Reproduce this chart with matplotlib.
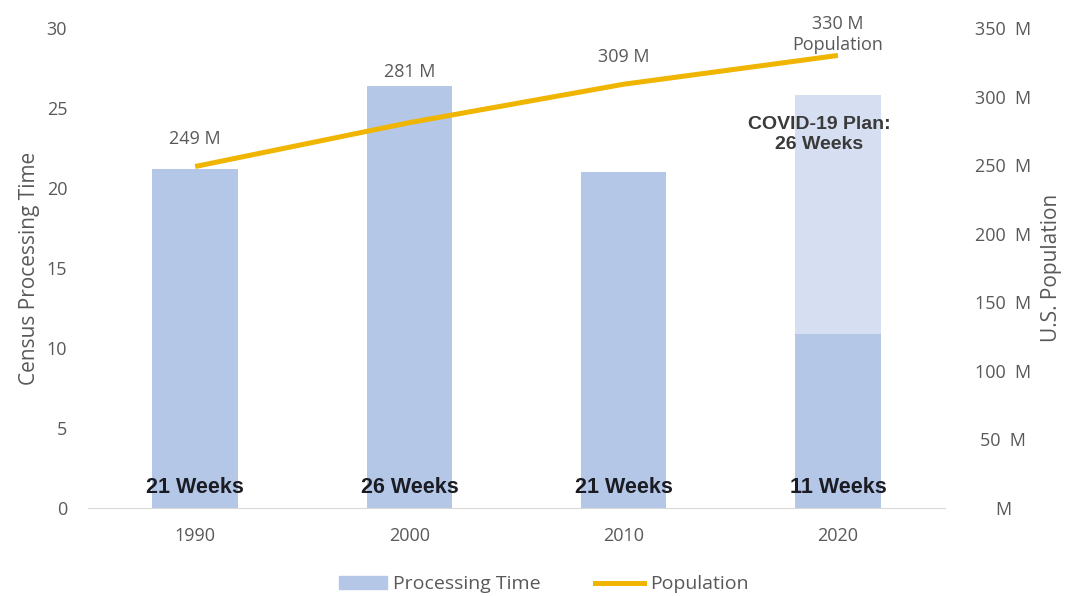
import matplotlib.pyplot as plt
from matplotlib.patches import Patch
from matplotlib.lines import Line2D

years = ['1990', '2000', '2010', '2020']
proc_time = [21.2, 26.4, 21.0, 10.9]
proc_labels = ['21 Weeks', '26 Weeks', '21 Weeks', '11 Weeks']
covid_plan = 25.8
population = [249, 281, 309, 330]
pop_labels = ['249 M', '281 M', '309 M', '330 M\nPopulation']

bar_color = '#b4c7e7'
plan_color = '#d5dff1'
line_color = '#efb500'
gray = '#595959'

plt.rcParams['font.family'] = ['Open Sans', 'DejaVu Sans']
fs = 13
bold_font = ['Liberation Sans', 'DejaVu Sans']

fig = plt.figure(figsize=(10.66, 5.96), dpi=100)
ax = fig.add_axes([0.0826, 0.1477, 0.8039, 0.8053])
x = list(range(len(years)))

# planned 2020 bar behind the actual one
ax.bar(x[3], covid_plan, width=0.4, color=plan_color, zorder=1)
ax.bar(x, proc_time, width=0.4, color=bar_color, zorder=2)

ax.set_xlim(-0.5, 3.5)
ax.set_ylim(0, 30)
ax.set_yticks(range(0, 31, 5))
ax.set_xticks(x)
ax.set_xticklabels(years)
ax.set_ylabel('Census Processing Time', fontsize=15, color=gray, labelpad=5)
ax.tick_params(axis='both', length=0, labelsize=fs, labelcolor=gray)
ax.tick_params(axis='x', pad=14)
ax.tick_params(axis='y', pad=15)
for s in ['top', 'right', 'left']:
    ax.spines[s].set_visible(False)
ax.spines['bottom'].set_color('#d9d9d9')

ax2 = ax.twinx()
ax2.plot(x, population, color=line_color, lw=3.6, solid_capstyle='butt', zorder=3)
offsets = [(0, 13), (0, 30), (0, 13), (0, 1)]
for xi, p, lab, off in zip(x, population, pop_labels, offsets):
    ax2.annotate(lab, (xi, p), xytext=off, textcoords='offset points', ha='center',
                 va='bottom', fontsize=fs, color=gray, linespacing=1.2)
for xi, lab in zip(x, proc_labels):
    ax2.text(xi, 1.3, lab, ha='center', va='center', fontsize=15.5, family=bold_font,
             fontweight='bold', color='#1b1b24', zorder=5, transform=ax.transData)
ax2.text(x[3] + 0.245, 23.35, 'COVID-19 Plan:\n26 Weeks', ha='right', va='center',
         fontsize=14, family=bold_font, fontweight='bold', color='#3a3a3a',
         linespacing=1.25, multialignment='center', zorder=5, transform=ax.transData)
ax2.set_ylim(0, 350)
ax2.set_yticks(range(0, 351, 50))
ax2.set_yticklabels([f'{v}  M' if v else 'M' for v in range(0, 351, 50)], ha='center')
ax2.tick_params(axis='y', length=0, labelsize=fs, labelcolor=gray, pad=42)
ax2.set_ylabel('U.S. Population', fontsize=15, color=gray, labelpad=7)
for s in ax2.spines.values():
    s.set_visible(False)

handles = [Patch(color=bar_color), Line2D([], [], color=line_color, lw=3.6)]
fig.legend(handles, ['Processing Time', 'Population'], loc='lower center',
           bbox_to_anchor=(0.51, -0.025), ncol=2, frameon=False, fontsize=fs + 1,
           labelcolor=gray, handlelength=2.5, handletextpad=0.3, columnspacing=2.8)

fig.savefig('out.png', dpi=100)
